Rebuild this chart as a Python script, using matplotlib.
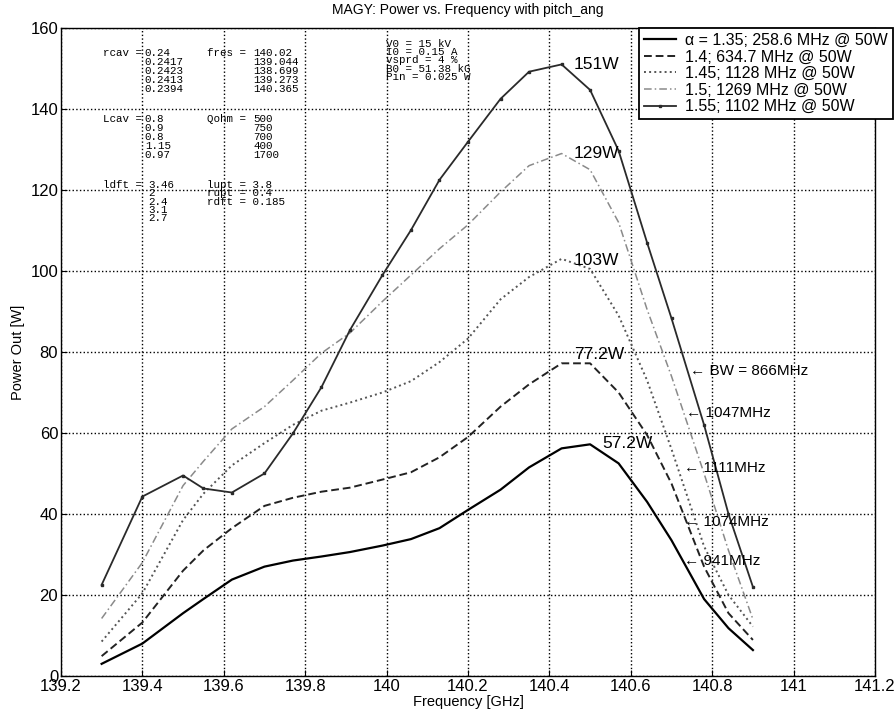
import matplotlib
matplotlib.use('Agg')
import matplotlib.pyplot as plt

plt.rcParams['font.family'] = ['Liberation Sans', 'DejaVu Sans']

# frequency points of the MAGY runs [GHz]
freq = [139.3, 139.4, 139.5, 139.55, 139.62, 139.7, 139.77, 139.84, 139.91, 139.99,
        140.06, 140.13, 140.2, 140.28, 140.35, 140.43, 140.5, 140.57, 140.64, 140.7,
        140.78, 140.84, 140.9]

# output power [W] for each pitch angle
p135 = [3.0, 8.0, 15.5, 19.0, 23.8, 27.0, 28.5, 29.5, 30.6, 32.2,
        33.8, 36.5, 41.0, 46.0, 51.5, 56.2, 57.2, 52.5, 43.0, 33.5,
        19.0, 11.8, 6.4]
p140 = [4.9, 13.2, 26.0, 31.0, 36.5, 42.0, 44.0, 45.5, 46.5, 48.5,
        50.3, 54.0, 59.0, 66.5, 72.0, 77.2, 77.2, 70.0, 59.5, 47.5,
        27.0, 15.5, 8.9]
p145 = [8.5, 20.4, 38.5, 45.0, 52.0, 57.5, 62.0, 65.5, 67.5, 70.0,
        72.8, 77.5, 83.3, 93.0, 98.5, 103.0, 100.5, 89.0, 73.0, 56.0,
        32.0, 20.0, 12.2]
p150 = [14.2, 28.0, 47.0, 53.0, 61.0, 66.5, 73.0, 79.7, 84.7, 92.5,
        99.0, 105.5, 111.4, 119.5, 126.0, 129.0, 125.0, 112.0, 90.5, 74.0,
        50.0, 31.0, 14.0]
p155 = [22.5, 44.3, 49.5, 46.3, 45.3, 50.0, 59.9, 71.3, 85.4, 99.0,
        110.1, 122.5, 131.9, 142.5, 149.2, 151.0, 144.7, 129.7, 107.0, 88.3,
        62.0, 40.0, 22.0]

labels = ['\u03b1 = 1.35; 258.6 MHz @ 50W', '1.4; 634.7 MHz @ 50W',
          '1.45; 1128 MHz @ 50W', '1.5; 1269 MHz @ 50W', '1.55; 1102 MHz @ 50W']

peak_text = ['57.2W', '77.2W', '103W', '129W', '151W']
peak_pos = [(140.53, 57.3), (140.46, 79.5), (140.46, 102.7), (140.46, 129.1), (140.46, 151.1)]

bw_text = ['\u2190 941MHz', '\u2190 1074MHz', '\u2190 1111MHz', '\u2190 1047MHz', '\u2190 BW = 866MHz']
bw_pos = [(140.731, 28.5), (140.731, 38.1), (140.731, 51.4), (140.735, 64.9), (140.745, 75.4)]

fig = plt.figure(figsize=(8.96, 7.17), dpi=100)
ax = fig.add_axes([0.068, 0.0572, 0.9086, 0.9038])

ax.plot(freq, p135, '-', color='black', lw=1.6, label=labels[0])
ax.plot(freq, p140, '--', color='#222222', lw=1.4, dashes=(4, 2), label=labels[1])
ax.plot(freq, p145, ':', color='#555555', lw=1.4, label=labels[2])
ax.plot(freq, p150, '-.', color='#8a8a8a', lw=1.1, dashes=(5, 2, 1, 2), label=labels[3])
ax.plot(freq, p155, '-', color='#2a2a2a', lw=1.3, marker='s', ms=1.6, label=labels[4])

for txt, (x, y) in zip(peak_text, peak_pos):
    ax.text(x, y, txt, fontsize=12.5, va='center', ha='left')
for txt, (x, y) in zip(bw_text, bw_pos):
    ax.text(x, y, txt, fontsize=11, va='center', ha='left')

# simulation parameters written on the plot
mono = dict(family='Liberation Mono', fontsize=7.8, va='center')
rcav = ['0.24', '0.2417', '0.2423', '0.2413', '0.2394']
fres = ['140.02', '139.044', '138.699', '139.273', '140.365']
lcav = ['0.8', '0.9', '0.8', '1.15', '0.97']
qohm = ['500', '750', '700', '400', '1700']
ldft = ['3.46', '2', '2.4', '3.1', '2.7']
cav_rows = [153.8, 151.6, 149.4, 147.2, 144.9]
lcav_rows = [137.5, 135.3, 133.1, 130.9, 128.6]
ldft_rows = [121.2, 119.2, 117.1, 115.1, 113.1]

ax.text(139.303, cav_rows[0], 'rcav =', **mono)
ax.text(139.558, cav_rows[0], 'fres =', **mono)
ax.text(139.303, lcav_rows[0], 'Lcav =', **mono)
ax.text(139.558, lcav_rows[0], 'Qohm =', **mono)
ax.text(139.303, ldft_rows[0], 'ldft =', **mono)
for i in range(5):
    ax.text(139.406, cav_rows[i], rcav[i], **mono)
    ax.text(139.672, cav_rows[i], fres[i], **mono)
    ax.text(139.406, lcav_rows[i], lcav[i], **mono)
    ax.text(139.672, lcav_rows[i], qohm[i], **mono)
    ax.text(139.415, ldft_rows[i], ldft[i], **mono)

tube = ['lupt = 3.8', 'rupt = 0.4', 'rdft = 0.185']
for i, s in enumerate(tube):
    ax.text(139.56, ldft_rows[i], s, **mono)

beam = ['V0 = 15 kV', 'I0 = 0.15 A', 'vsprd = 4 %', 'B0 = 51.38 kG', 'Pin = 0.025 W']
beam_rows = [156.0, 154.0, 152.0, 149.9, 147.9]
for s, y in zip(beam, beam_rows):
    ax.text(139.998, y, s, **mono)

ax.set_xlim(139.2, 141.2)
ax.set_ylim(0, 160)
ax.set_xticks([139.2, 139.4, 139.6, 139.8, 140, 140.2, 140.4, 140.6, 140.8, 141, 141.2])
ax.set_xticklabels(['139.2', '139.4', '139.6', '139.8', '140', '140.2', '140.4',
                    '140.6', '140.8', '141', '141.2'])
ax.set_yticks(range(0, 161, 20))
ax.tick_params(direction='in', labelsize=12, length=4, pad=2)
ax.grid(True, linestyle=':', color='black', lw=1.0)
for sp in ax.spines.values():
    sp.set_linewidth(1.0)

ax.set_xlabel('Frequency [GHz]', fontsize=10.5, labelpad=1)
ax.set_ylabel('Power Out [W]', fontsize=10.5, labelpad=4)
ax.set_title('MAGY: Power vs. Frequency with pitch_ang', fontsize=10, pad=10)

leg = ax.legend(loc='upper right', bbox_to_anchor=(893 / 896, 1 - 28 / 717),
                bbox_transform=fig.transFigure, borderaxespad=0, fontsize=11.5,
                fancybox=False, framealpha=1, edgecolor='black',
                handlelength=2.0, handletextpad=0.6, labelspacing=0.1, borderpad=0.3)
leg.get_frame().set_linewidth(1.3)

fig.savefig('out.png', dpi=100)
